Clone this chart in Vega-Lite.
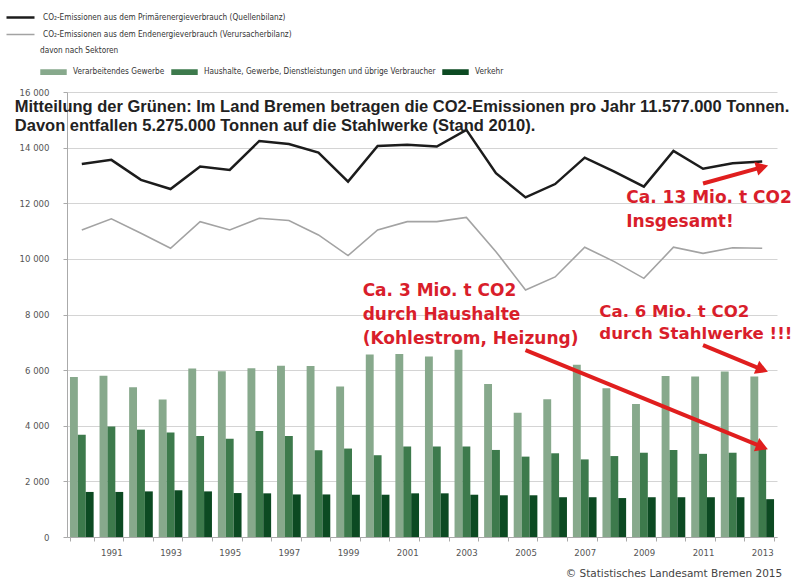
{
  "$schema": "https://vega.github.io/schema/vega-lite/v6.json",
  "autosize": {"type": "none"},
  "width": 710,
  "height": 445,
  "padding": {"left": 67, "top": 92, "right": 15, "bottom": 46},
  "background": "#ffffff",
  "config": {
    "view": {"stroke": null},
    "font": "DejaVu Sans Condensed, Liberation Sans, sans-serif",
    "axis": {"labelFont": "DejaVu Sans Condensed, Liberation Sans, sans-serif", "labelColor": "#555555", "labelFontSize": 9.5, "domainColor": "#aaaaaa", "tickColor": "#aaaaaa", "gridColor": "#d4d4d4", "title": null},
    "legend": {"labelFont": "DejaVu Sans Condensed, Liberation Sans, sans-serif", "titleFont": "DejaVu Sans Condensed, Liberation Sans, sans-serif", "labelFontSize": 8.2, "labelColor": "#333333", "labelLimit": 500}
  },
  "datasets": {
    "bars": [
      {"year": 1990, "sector": "Verarbeitendes Gewerbe", "value": 5750},
      {"year": 1990, "sector": "Haushalte, Gewerbe, Dienstleistungen und übrige Verbraucher", "value": 3680},
      {"year": 1990, "sector": "Verkehr", "value": 1620},
      {"year": 1991, "sector": "Verarbeitendes Gewerbe", "value": 5800},
      {"year": 1991, "sector": "Haushalte, Gewerbe, Dienstleistungen und übrige Verbraucher", "value": 3970},
      {"year": 1991, "sector": "Verkehr", "value": 1620},
      {"year": 1992, "sector": "Verarbeitendes Gewerbe", "value": 5380},
      {"year": 1992, "sector": "Haushalte, Gewerbe, Dienstleistungen und übrige Verbraucher", "value": 3860},
      {"year": 1992, "sector": "Verkehr", "value": 1640},
      {"year": 1993, "sector": "Verarbeitendes Gewerbe", "value": 4940},
      {"year": 1993, "sector": "Haushalte, Gewerbe, Dienstleistungen und übrige Verbraucher", "value": 3760},
      {"year": 1993, "sector": "Verkehr", "value": 1680},
      {"year": 1994, "sector": "Verarbeitendes Gewerbe", "value": 6060},
      {"year": 1994, "sector": "Haushalte, Gewerbe, Dienstleistungen und übrige Verbraucher", "value": 3630},
      {"year": 1994, "sector": "Verkehr", "value": 1640},
      {"year": 1995, "sector": "Verarbeitendes Gewerbe", "value": 5960},
      {"year": 1995, "sector": "Haushalte, Gewerbe, Dienstleistungen und übrige Verbraucher", "value": 3530},
      {"year": 1995, "sector": "Verkehr", "value": 1580},
      {"year": 1996, "sector": "Verarbeitendes Gewerbe", "value": 6070},
      {"year": 1996, "sector": "Haushalte, Gewerbe, Dienstleistungen und übrige Verbraucher", "value": 3810},
      {"year": 1996, "sector": "Verkehr", "value": 1570},
      {"year": 1997, "sector": "Verarbeitendes Gewerbe", "value": 6160},
      {"year": 1997, "sector": "Haushalte, Gewerbe, Dienstleistungen und übrige Verbraucher", "value": 3630},
      {"year": 1997, "sector": "Verkehr", "value": 1530},
      {"year": 1998, "sector": "Verarbeitendes Gewerbe", "value": 6150},
      {"year": 1998, "sector": "Haushalte, Gewerbe, Dienstleistungen und übrige Verbraucher", "value": 3120},
      {"year": 1998, "sector": "Verkehr", "value": 1530},
      {"year": 1999, "sector": "Verarbeitendes Gewerbe", "value": 5410},
      {"year": 1999, "sector": "Haushalte, Gewerbe, Dienstleistungen und übrige Verbraucher", "value": 3180},
      {"year": 1999, "sector": "Verkehr", "value": 1520},
      {"year": 2000, "sector": "Verarbeitendes Gewerbe", "value": 6560},
      {"year": 2000, "sector": "Haushalte, Gewerbe, Dienstleistungen und übrige Verbraucher", "value": 2940},
      {"year": 2000, "sector": "Verkehr", "value": 1520},
      {"year": 2001, "sector": "Verarbeitendes Gewerbe", "value": 6580},
      {"year": 2001, "sector": "Haushalte, Gewerbe, Dienstleistungen und übrige Verbraucher", "value": 3250},
      {"year": 2001, "sector": "Verkehr", "value": 1570},
      {"year": 2002, "sector": "Verarbeitendes Gewerbe", "value": 6490},
      {"year": 2002, "sector": "Haushalte, Gewerbe, Dienstleistungen und übrige Verbraucher", "value": 3250},
      {"year": 2002, "sector": "Verkehr", "value": 1570},
      {"year": 2003, "sector": "Verarbeitendes Gewerbe", "value": 6730},
      {"year": 2003, "sector": "Haushalte, Gewerbe, Dienstleistungen und übrige Verbraucher", "value": 3250},
      {"year": 2003, "sector": "Verkehr", "value": 1520},
      {"year": 2004, "sector": "Verarbeitendes Gewerbe", "value": 5500},
      {"year": 2004, "sector": "Haushalte, Gewerbe, Dienstleistungen und übrige Verbraucher", "value": 3130},
      {"year": 2004, "sector": "Verkehr", "value": 1500},
      {"year": 2005, "sector": "Verarbeitendes Gewerbe", "value": 4470},
      {"year": 2005, "sector": "Haushalte, Gewerbe, Dienstleistungen und übrige Verbraucher", "value": 2890},
      {"year": 2005, "sector": "Verkehr", "value": 1500},
      {"year": 2006, "sector": "Verarbeitendes Gewerbe", "value": 4950},
      {"year": 2006, "sector": "Haushalte, Gewerbe, Dienstleistungen und übrige Verbraucher", "value": 3010},
      {"year": 2006, "sector": "Verkehr", "value": 1430},
      {"year": 2007, "sector": "Verarbeitendes Gewerbe", "value": 6190},
      {"year": 2007, "sector": "Haushalte, Gewerbe, Dienstleistungen und übrige Verbraucher", "value": 2790},
      {"year": 2007, "sector": "Verkehr", "value": 1430},
      {"year": 2008, "sector": "Verarbeitendes Gewerbe", "value": 5350},
      {"year": 2008, "sector": "Haushalte, Gewerbe, Dienstleistungen und übrige Verbraucher", "value": 2910},
      {"year": 2008, "sector": "Verkehr", "value": 1400},
      {"year": 2009, "sector": "Verarbeitendes Gewerbe", "value": 4780},
      {"year": 2009, "sector": "Haushalte, Gewerbe, Dienstleistungen und übrige Verbraucher", "value": 3030},
      {"year": 2009, "sector": "Verkehr", "value": 1430},
      {"year": 2010, "sector": "Verarbeitendes Gewerbe", "value": 5790},
      {"year": 2010, "sector": "Haushalte, Gewerbe, Dienstleistungen und übrige Verbraucher", "value": 3130},
      {"year": 2010, "sector": "Verkehr", "value": 1430},
      {"year": 2011, "sector": "Verarbeitendes Gewerbe", "value": 5770},
      {"year": 2011, "sector": "Haushalte, Gewerbe, Dienstleistungen und übrige Verbraucher", "value": 2990},
      {"year": 2011, "sector": "Verkehr", "value": 1430},
      {"year": 2012, "sector": "Verarbeitendes Gewerbe", "value": 5950},
      {"year": 2012, "sector": "Haushalte, Gewerbe, Dienstleistungen und übrige Verbraucher", "value": 3030},
      {"year": 2012, "sector": "Verkehr", "value": 1430},
      {"year": 2013, "sector": "Verarbeitendes Gewerbe", "value": 5770},
      {"year": 2013, "sector": "Haushalte, Gewerbe, Dienstleistungen und übrige Verbraucher", "value": 3190},
      {"year": 2013, "sector": "Verkehr", "value": 1360}
    ],
    "lines": [
      {"year": 1990, "series": "CO₂-Emissionen aus dem Primärenergieverbrauch (Quellenbilanz)", "value": 13410},
      {"year": 1991, "series": "CO₂-Emissionen aus dem Primärenergieverbrauch (Quellenbilanz)", "value": 13560},
      {"year": 1992, "series": "CO₂-Emissionen aus dem Primärenergieverbrauch (Quellenbilanz)", "value": 12840},
      {"year": 1993, "series": "CO₂-Emissionen aus dem Primärenergieverbrauch (Quellenbilanz)", "value": 12510},
      {"year": 1994, "series": "CO₂-Emissionen aus dem Primärenergieverbrauch (Quellenbilanz)", "value": 13320},
      {"year": 1995, "series": "CO₂-Emissionen aus dem Primärenergieverbrauch (Quellenbilanz)", "value": 13200},
      {"year": 1996, "series": "CO₂-Emissionen aus dem Primärenergieverbrauch (Quellenbilanz)", "value": 14240},
      {"year": 1997, "series": "CO₂-Emissionen aus dem Primärenergieverbrauch (Quellenbilanz)", "value": 14130},
      {"year": 1998, "series": "CO₂-Emissionen aus dem Primärenergieverbrauch (Quellenbilanz)", "value": 13820},
      {"year": 1999, "series": "CO₂-Emissionen aus dem Primärenergieverbrauch (Quellenbilanz)", "value": 12780},
      {"year": 2000, "series": "CO₂-Emissionen aus dem Primärenergieverbrauch (Quellenbilanz)", "value": 14060},
      {"year": 2001, "series": "CO₂-Emissionen aus dem Primärenergieverbrauch (Quellenbilanz)", "value": 14100},
      {"year": 2002, "series": "CO₂-Emissionen aus dem Primärenergieverbrauch (Quellenbilanz)", "value": 14040},
      {"year": 2003, "series": "CO₂-Emissionen aus dem Primärenergieverbrauch (Quellenbilanz)", "value": 14640},
      {"year": 2004, "series": "CO₂-Emissionen aus dem Primärenergieverbrauch (Quellenbilanz)", "value": 13080},
      {"year": 2005, "series": "CO₂-Emissionen aus dem Primärenergieverbrauch (Quellenbilanz)", "value": 12210},
      {"year": 2006, "series": "CO₂-Emissionen aus dem Primärenergieverbrauch (Quellenbilanz)", "value": 12690},
      {"year": 2007, "series": "CO₂-Emissionen aus dem Primärenergieverbrauch (Quellenbilanz)", "value": 13640},
      {"year": 2008, "series": "CO₂-Emissionen aus dem Primärenergieverbrauch (Quellenbilanz)", "value": 13140},
      {"year": 2009, "series": "CO₂-Emissionen aus dem Primärenergieverbrauch (Quellenbilanz)", "value": 12600},
      {"year": 2010, "series": "CO₂-Emissionen aus dem Primärenergieverbrauch (Quellenbilanz)", "value": 13880},
      {"year": 2011, "series": "CO₂-Emissionen aus dem Primärenergieverbrauch (Quellenbilanz)", "value": 13240},
      {"year": 2012, "series": "CO₂-Emissionen aus dem Primärenergieverbrauch (Quellenbilanz)", "value": 13440},
      {"year": 2013, "series": "CO₂-Emissionen aus dem Primärenergieverbrauch (Quellenbilanz)", "value": 13500},
      {"year": 1990, "series": "CO₂-Emissionen aus dem Endenergieverbrauch (Verursacherbilanz)", "value": 11040},
      {"year": 1991, "series": "CO₂-Emissionen aus dem Endenergieverbrauch (Verursacherbilanz)", "value": 11440},
      {"year": 1992, "series": "CO₂-Emissionen aus dem Endenergieverbrauch (Verursacherbilanz)", "value": 10920},
      {"year": 1993, "series": "CO₂-Emissionen aus dem Endenergieverbrauch (Verursacherbilanz)", "value": 10380},
      {"year": 1994, "series": "CO₂-Emissionen aus dem Endenergieverbrauch (Verursacherbilanz)", "value": 11340},
      {"year": 1995, "series": "CO₂-Emissionen aus dem Endenergieverbrauch (Verursacherbilanz)", "value": 11040},
      {"year": 1996, "series": "CO₂-Emissionen aus dem Endenergieverbrauch (Verursacherbilanz)", "value": 11460},
      {"year": 1997, "series": "CO₂-Emissionen aus dem Endenergieverbrauch (Verursacherbilanz)", "value": 11380},
      {"year": 1998, "series": "CO₂-Emissionen aus dem Endenergieverbrauch (Verursacherbilanz)", "value": 10860},
      {"year": 1999, "series": "CO₂-Emissionen aus dem Endenergieverbrauch (Verursacherbilanz)", "value": 10120},
      {"year": 2000, "series": "CO₂-Emissionen aus dem Endenergieverbrauch (Verursacherbilanz)", "value": 11040},
      {"year": 2001, "series": "CO₂-Emissionen aus dem Endenergieverbrauch (Verursacherbilanz)", "value": 11340},
      {"year": 2002, "series": "CO₂-Emissionen aus dem Endenergieverbrauch (Verursacherbilanz)", "value": 11340},
      {"year": 2003, "series": "CO₂-Emissionen aus dem Endenergieverbrauch (Verursacherbilanz)", "value": 11490},
      {"year": 2004, "series": "CO₂-Emissionen aus dem Endenergieverbrauch (Verursacherbilanz)", "value": 10260},
      {"year": 2005, "series": "CO₂-Emissionen aus dem Endenergieverbrauch (Verursacherbilanz)", "value": 8880},
      {"year": 2006, "series": "CO₂-Emissionen aus dem Endenergieverbrauch (Verursacherbilanz)", "value": 9350},
      {"year": 2007, "series": "CO₂-Emissionen aus dem Endenergieverbrauch (Verursacherbilanz)", "value": 10420},
      {"year": 2008, "series": "CO₂-Emissionen aus dem Endenergieverbrauch (Verursacherbilanz)", "value": 9900},
      {"year": 2009, "series": "CO₂-Emissionen aus dem Endenergieverbrauch (Verursacherbilanz)", "value": 9300},
      {"year": 2010, "series": "CO₂-Emissionen aus dem Endenergieverbrauch (Verursacherbilanz)", "value": 10420},
      {"year": 2011, "series": "CO₂-Emissionen aus dem Endenergieverbrauch (Verursacherbilanz)", "value": 10200},
      {"year": 2012, "series": "CO₂-Emissionen aus dem Endenergieverbrauch (Verursacherbilanz)", "value": 10400},
      {"year": 2013, "series": "CO₂-Emissionen aus dem Endenergieverbrauch (Verursacherbilanz)", "value": 10380}
    ],
    "arrows": [
      {"name": "gesamt", "year": 2011, "value": 12710, "year2": 2013, "value2": 13300},
      {"name": "haushalte", "year": 2005, "value": 6720, "year2": 2013, "value2": 3240},
      {"name": "stahl", "year": 2011, "value": 6900, "year2": 2013, "value2": 6020}
    ],
    "one": [{}]
  },
  "layer": [
    {
      "data": {"name": "bars"},
      "mark": {"type": "bar"},
      "encoding": {
        "x": {"field": "year", "type": "ordinal", "scale": {"paddingInner": 0.2, "paddingOuter": 0.1},
          "axis": {"labelExpr": "datum.value % 2 == 1 ? datum.label : ''", "tickBand": "extent", "labelAngle": 0, "grid": false, "labelPadding": 6, "tickSize": 4}},
        "xOffset": {"field": "sector", "type": "nominal", "sort": ["Verarbeitendes Gewerbe", "Haushalte, Gewerbe, Dienstleistungen und übrige Verbraucher", "Verkehr"], "scale": {"paddingInner": 0}},
        "y": {"field": "value", "type": "quantitative", "scale": {"domain": [0, 16000], "nice": false},
          "axis": {"values": [0, 2000, 4000, 6000, 8000, 10000, 12000, 14000, 16000], "labelExpr": "replace(format(datum.value, ',d'), ',', ' ')", "grid": true, "tickSize": 4, "labelPadding": 14}},
        "fill": {"field": "sector", "type": "nominal",
          "scale": {"domain": ["Verarbeitendes Gewerbe", "Haushalte, Gewerbe, Dienstleistungen und übrige Verbraucher", "Verkehr"], "range": ["#87a98c", "#3d7a4c", "#0c4a22"]},
          "legend": {"orient": "none", "legendX": -27, "legendY": -45, "direction": "horizontal", "columns": 3, "title": "davon nach Sektoren", "titleFontSize": 8.2, "titleFontWeight": "normal", "titleColor": "#333333", "titlePadding": 12, "symbolType": "M-1,-0.22H1V0.22H-1Z", "symbolSize": 700, "symbolStrokeWidth": 0, "labelOffset": 6, "columnPadding": 6, "clipHeight": 10}}
      }
    },
    {
      "data": {"name": "lines"},
      "mark": {"type": "line"},
      "encoding": {
        "x": {"field": "year", "type": "ordinal"},
        "y": {"field": "value", "type": "quantitative"},
        "stroke": {"field": "series", "type": "nominal",
          "scale": {"domain": ["CO₂-Emissionen aus dem Primärenergieverbrauch (Quellenbilanz)", "CO₂-Emissionen aus dem Endenergieverbrauch (Verursacherbilanz)"], "range": ["#1c1c1c", "#a3a3a3"]},
          "legend": {"orient": "none", "legendX": -62, "legendY": -81, "direction": "vertical", "title": null, "symbolType": "stroke", "symbolSize": 784, "symbolStrokeWidth": 3, "labelOffset": 7, "rowPadding": 4, "clipHeight": 13}},
        "strokeWidth": {"field": "series", "type": "nominal", "scale": {"domain": ["CO₂-Emissionen aus dem Primärenergieverbrauch (Quellenbilanz)", "CO₂-Emissionen aus dem Endenergieverbrauch (Verursacherbilanz)"], "range": [2.5, 1.6]}, "legend": null}
      }
    },
    {
      "data": {"name": "arrows"},
      "mark": {"type": "rule", "color": "#e01e1e", "strokeWidth": 4},
      "encoding": {
        "x": {"field": "year", "type": "ordinal"},
        "x2": {"field": "year2"},
        "y": {"field": "value", "type": "quantitative"},
        "y2": {"field": "value2"}
      }
    },
    {
      "data": {"name": "arrows"},
      "transform": [{"filter": "datum.name == 'gesamt'"}],
      "mark": {"type": "point", "shape": "triangle-right", "filled": true, "color": "#e01e1e", "size": 200, "angle": 344, "opacity": 1},
      "encoding": {"x": {"field": "year2", "type": "ordinal"}, "y": {"field": "value2", "type": "quantitative"}}
    },
    {
      "data": {"name": "arrows"},
      "transform": [{"filter": "datum.name != 'gesamt'"}],
      "mark": {"type": "point", "shape": "triangle-right", "filled": true, "color": "#e01e1e", "size": 200, "angle": 22, "opacity": 1},
      "encoding": {"x": {"field": "year2", "type": "ordinal"}, "y": {"field": "value2", "type": "quantitative"}}
    },
    {
      "data": {"name": "one"},
      "mark": {"type": "text", "font": "Liberation Sans", "fontWeight": "bold", "fontSize": 16.5, "color": "#222222", "align": "left", "baseline": "alphabetic", "lineBreak": "\n", "lineHeight": 18.5, "dx": -67},
      "encoding": {
        "x": {"datum": 1990, "type": "ordinal"},
        "y": {"datum": 15280, "type": "quantitative"},
        "text": {"value": "Mitteilung der Grünen: Im Land Bremen betragen die CO2-Emissionen pro Jahr 11.577.000 Tonnen.\nDavon entfallen 5.275.000 Tonnen auf die Stahlwerke (Stand 2010)."}
      }
    },
    {
      "data": {"name": "one"},
      "mark": {"type": "text", "font": "DejaVu Sans", "fontWeight": "bold", "fontSize": 17, "color": "#d91e2b", "align": "left", "baseline": "alphabetic", "lineBreak": "\n", "lineHeight": 23.7, "dx": 12},
      "encoding": {
        "x": {"datum": 2008, "type": "ordinal"},
        "y": {"datum": 12000, "type": "quantitative"},
        "text": {"value": "Ca. 13 Mio. t CO2\nInsgesamt!"}
      }
    },
    {
      "data": {"name": "one"},
      "mark": {"type": "text", "font": "DejaVu Sans", "fontWeight": "bold", "fontSize": 17, "color": "#d91e2b", "align": "left", "baseline": "alphabetic", "lineBreak": "\n", "lineHeight": 24, "dx": -15},
      "encoding": {
        "x": {"datum": 2000, "type": "ordinal"},
        "y": {"datum": 8655, "type": "quantitative"},
        "text": {"value": "Ca. 3 Mio. t CO2\ndurch Haushalte\n(Kohlestrom, Heizung)"}
      }
    },
    {
      "data": {"name": "one"},
      "mark": {"type": "text", "font": "DejaVu Sans", "fontWeight": "bold", "fontSize": 16.6, "color": "#d91e2b", "align": "left", "baseline": "alphabetic", "lineBreak": "\n", "lineHeight": 22, "dx": -15},
      "encoding": {
        "x": {"datum": 2008, "type": "ordinal"},
        "y": {"datum": 7910, "type": "quantitative"},
        "text": {"value": "Ca. 6 Mio. t CO2\ndurch Stahlwerke !!!"}
      }
    },
    {
      "data": {"name": "one"},
      "mark": {"type": "text", "font": "DejaVu Sans", "fontSize": 10.5, "color": "#444444", "align": "right", "baseline": "alphabetic", "dx": 20, "dy": 40},
      "encoding": {
        "x": {"datum": 2013, "type": "ordinal"},
        "y": {"datum": 0, "type": "quantitative"},
        "text": {"value": "© Statistisches Landesamt Bremen 2015"}
      }
    }
  ]
}
